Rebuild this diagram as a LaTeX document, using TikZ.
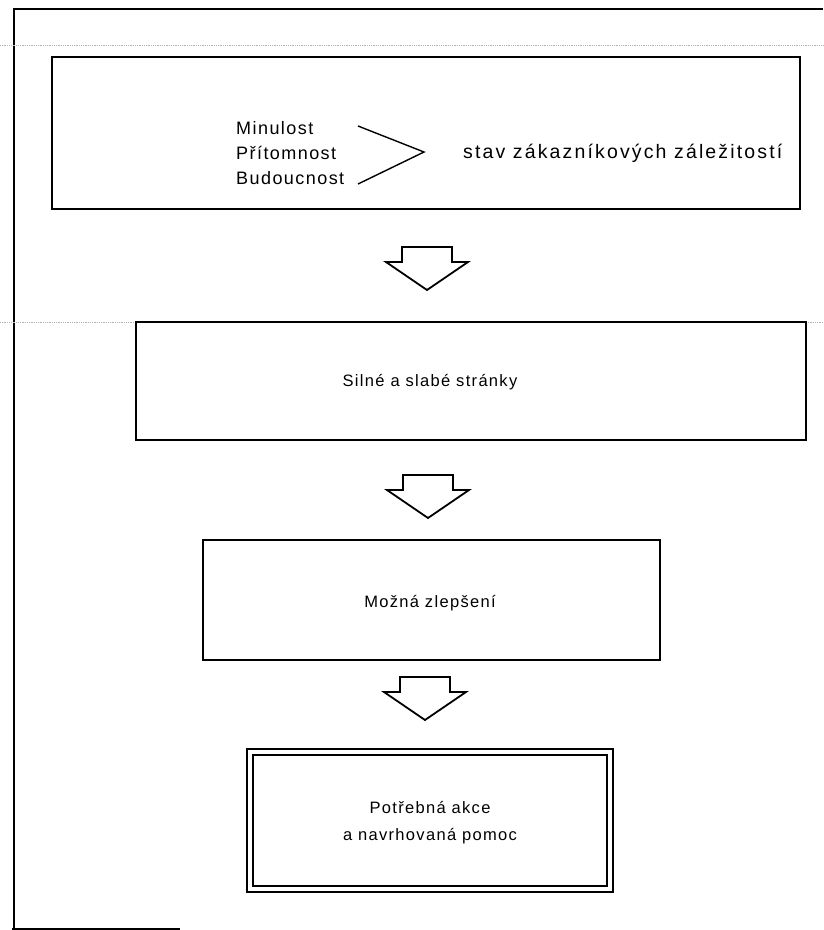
\documentclass[tikz,border=0pt]{standalone}
\usepackage{fontspec}
\setmainfont{Liberation Sans}[LetterSpace=8]
\usetikzlibrary{calc}

\tikzset{
  box/.style={draw, line width=2pt, inner sep=0pt},
  bigtxt/.style={font=\fontsize{18}{25}\selectfont, inner sep=0pt},
  widetxt/.style={font=\fontsize{19.5}{25}\selectfont\addfontfeatures{LetterSpace=11}, inner sep=0pt},
  txt/.style={font=\fontsize{16.5}{27}\selectfont, inner sep=0pt},
  frameline/.style={line width=1.5pt},
  scanline/.style={gray!60, line width=0.8pt, densely dotted},
  blockdown/.pic={
    \draw[line width=1.8pt, fill=white]
      (-25,0) -- (25,0) -- (25,15) -- (41,15) -- (0,43) -- (-41,15) -- (-25,15) -- cycle;
  },
}

\begin{document}
\begin{tikzpicture}[x=1pt, y=-1pt]
\useasboundingbox (0,0) rectangle (823,930);

% page frame
\draw[frameline] (823,9) -- (14,9) -- (14,929);
\draw[frameline] (12,929) -- (180,929);
\draw[scanline] (0,45) -- (823,45);
\draw[scanline] (0,322) -- (136,322);
\draw[scanline] (806,322) -- (823,322);

% boxes
\node[box, minimum width=748, minimum height=152] (state) at (426,133) {};
\node[box, minimum width=670, minimum height=118] (strengths) at (471,381) {};
\node[box, minimum width=457, minimum height=120] (improve) at (431.5,600) {};
\node[box, minimum width=366, minimum height=143] (action) at (430,820.5) {};
\draw[line width=2pt] ($(action.north west)+(7,7)$) rectangle ($(action.south east)+(-7,-7)$);

% top box contents
\node[bigtxt, anchor=west, align=left] (times) at (236,153) {Minulost\\Přítomnost\\Budoucnost};
\coordinate (cup) at (358,126);
\coordinate (ctip) at (424,152);
\coordinate (clow) at (358,184);
\draw[line width=1.4pt] (cup) -- (ctip) -- (clow);
\node[widetxt, anchor=west] (stav) at (463,153) {stav zákazníkových záležitostí};

\node[txt] (silne) at (430,382) {Silné a slabé stránky};
\node[txt] (mozna) at (430,603) {Možná zlepšení};
\node[txt, align=center] (akce) at (430,823) {Potřebná akce\\a navrhovaná pomoc};

% arrows between the boxes
\pic at (427,247) {blockdown};
\pic at (428,475) {blockdown};
\pic at (425,677) {blockdown};
\end{tikzpicture}
\end{document}
